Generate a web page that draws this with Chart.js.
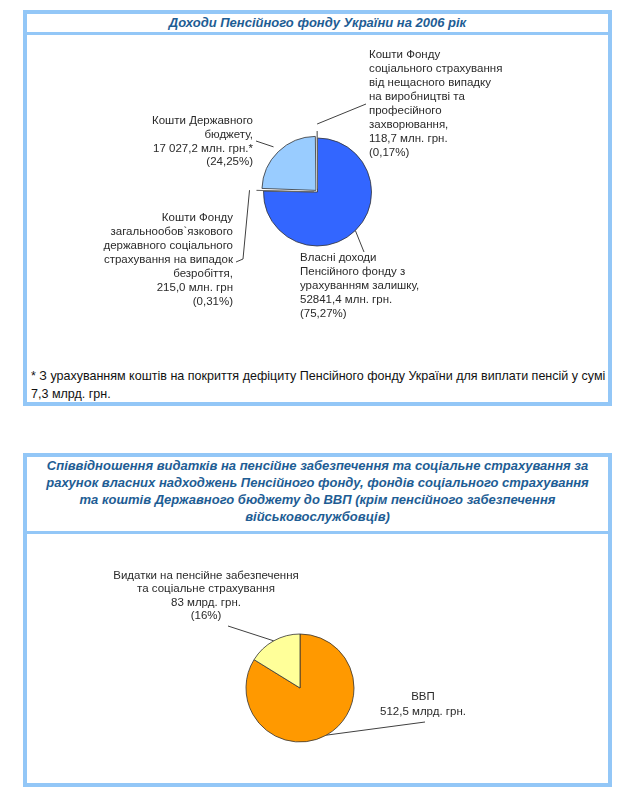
<!DOCTYPE html>
<html lang="uk">
<head>
<meta charset="UTF-8">
<title>Доходи Пенсійного фонду України на 2006 рік</title>
<script src="https://cdn.jsdelivr.net/npm/chart.js"></script>
<style>
  body { margin: 0; background: #fff; font-family: "Liberation Sans", Arial, sans-serif; }
  .box { position: absolute; left: 23px; width: 589px; border: 4px solid #93c7f7; box-sizing: border-box; }
  .title { border-bottom: 3px solid #93c7f7; color: #1e5d94; font-weight: bold; font-style: italic;
           font-size: 13px; text-align: center; }
  #box1 { top: 10px; height: 396px; }
  #box1 .title { height: 18px; line-height: 18px; }
  #box2 { top: 453px; height: 334px; }
  #box2 .title { height: 74px; line-height: 17px; }
  .note { position: absolute; left: 4px; top: 353px; font-size: 13.5px; line-height: 18px; color: #111;
          white-space: nowrap; transform-origin: 0 0; }
  canvas { position: absolute; }
</style>
</head>
<body>
<div class="box" id="box1">
  <div class="title">Доходи Пенсійного фонду України на 2006 рік</div>
  <div class="note" id="note"><span id="noteLine">* З урахуванням коштів на покриття дефіциту Пенсійного фонду України для виплати пенсій у сумі</span><br>7,3 млрд. грн.</div>
</div>
<div class="box" id="box2">
  <div class="title">Співвідношення видатків на пенсійне забезпечення та соціальне страхування за<br>рахунок власних надходжень Пенсійного фонду, фондів соціального страхування<br>та коштів Державного бюджету до ВВП (крім пенсійного забезпечення<br>військовослужбовців)</div>
</div>
<canvas id="incomeChart" width="581" height="316" style="left:27px;top:36px"></canvas>
<canvas id="gdpChart" width="581" height="245" style="left:27px;top:536px"></canvas>
<script>
// --- data: доходи ПФУ 2006, млн. грн.
const incomeCategories = [
  'Власні доходи Пенсійного фонду з урахуванням залишку',
  'Кошти Фонду загальнообов`язкового державного соціального страхування на випадок безробіття',
  'Кошти Державного бюджету',
  'Кошти Фонду соціального страхування від нещасного випадку на виробництві та професійного захворювання'
];
const incomeValues = [52841.4, 215.0, 17027.2, 118.7];
const incomeLabels = [
  ['Власні доходи', 'Пенсійного фонду з', 'урахуванням залишку,', '52841,4 млн. грн.', '(75,27%)'],
  ['Кошти Фонду', 'загальнообов`язкового', 'державного соціального', 'страхування на випадок', 'безробіття,', '215,0 млн. грн', '(0,31%)'],
  ['Кошти Державного', 'бюджету,', '17 027,2 млн. грн.*', '(24,25%)'],
  ['Кошти Фонду', 'соціального страхування', 'від нещасного випадку', 'на виробництві та', 'професійного', 'захворювання,', '118,7 млн. грн.', '(0,17%)']
];

// --- data: видатки до ВВП, млрд. грн. (ВВП 512,5, з них видатки 83)
const gdpCategories = ['ВВП', 'Видатки на пенсійне забезпечення та соціальне страхування'];
const gdpValues = [429.5, 83];
const gdpLabels = [
  ['ВВП', '512,5 млрд. грн.'],
  ['Видатки на пенсійне забезпечення', 'та соціальне страхування', '83 млрд. грн.', '(16%)']
];

// label placement (page px): x, first line y, line height, align, leader points after the arc anchor
const incomeLayout = [
  { x: 300, y: 258, lh: 14, align: 'left', leader: [[364, 252]] },
  { x: 233, y: 218, lh: 14, align: 'right', leader: [[243, 259], [236, 262]] },
  { x: 253, y: 121, lh: 13.7, align: 'right', leader: [[256, 141]] },
  { x: 369, y: 55, lh: 14, align: 'left', leader: [[366, 104]] }
];
const gdpLayout = [
  { x: 423, y: 697, lh: 15, align: 'center', leader: [[425, 722]] },
  { x: 206, y: 576, lh: 13.3, align: 'center', leader: [[228, 626]] }
];

// squeeze footnote to the narrow look of the original (first line spans ~574px)
const noteLine = document.getElementById('noteLine');
document.getElementById('note').style.transform = 'scaleX(' + (574 / noteLine.offsetWidth) + ')';

const calloutPlugin = {
  id: 'callouts',
  afterDraw(chart, args, opts) {
    const ctx = chart.ctx;
    const ox = opts.left, oy = opts.top;
    const arcs = chart.getDatasetMeta(0).data;
    ctx.save();
    ctx.font = '11.5px "Liberation Sans", Arial, sans-serif';
    ctx.fillStyle = '#2a2a2a';
    ctx.strokeStyle = '#404040';
    ctx.lineWidth = 1;
    ctx.textBaseline = 'middle';
    opts.layout.forEach((l, i) => {
      const a = arcs[i];
      const p = a.getProps(['x', 'y', 'startAngle', 'endAngle', 'outerRadius']);
      const mid = (p.startAngle + p.endAngle) / 2;
      const off = a.options.offset || 0;
      const r = p.outerRadius + off;
      ctx.beginPath();
      ctx.moveTo(p.x + Math.cos(mid) * r, p.y + Math.sin(mid) * r);
      l.leader.forEach(pt => ctx.lineTo(pt[0] - ox, pt[1] - oy));
      ctx.stroke();
      ctx.textAlign = l.align;
      opts.lines[i].forEach((t, k) => ctx.fillText(t, l.x - ox, l.y + k * l.lh - oy));
    });
    ctx.restore();
  }
};

new Chart(document.getElementById('incomeChart'), {
  type: 'pie',
  data: {
    labels: incomeCategories,
    datasets: [{
      data: incomeValues,
      backgroundColor: ['#3366ff', '#ffffff', '#99ccff', '#ffffff'],
      borderColor: ['#333333', '#666666', '#333333', '#666666'],
      borderWidth: 0.8,
      offset: [0, 14, 9, 14]
    }]
  },
  options: {
    responsive: false,
    animation: false,
    radius: 54,
    layout: { padding: { bottom: 4 } },
    plugins: {
      legend: { display: false },
      tooltip: { enabled: false },
      callouts: { left: 27, top: 36, layout: incomeLayout, lines: incomeLabels }
    }
  },
  plugins: [calloutPlugin]
});

new Chart(document.getElementById('gdpChart'), {
  type: 'pie',
  data: {
    labels: gdpCategories,
    datasets: [{
      data: gdpValues,
      backgroundColor: ['#ff9900', '#ffff99'],
      borderColor: '#333333',
      borderWidth: 0.8
    }]
  },
  options: {
    responsive: false,
    animation: false,
    radius: 54,
    layout: { padding: { top: 59, right: 35 } },
    plugins: {
      legend: { display: false },
      tooltip: { enabled: false },
      callouts: { left: 27, top: 536, layout: gdpLayout, lines: gdpLabels }
    }
  },
  plugins: [calloutPlugin]
});
</script>
</body>
</html>
